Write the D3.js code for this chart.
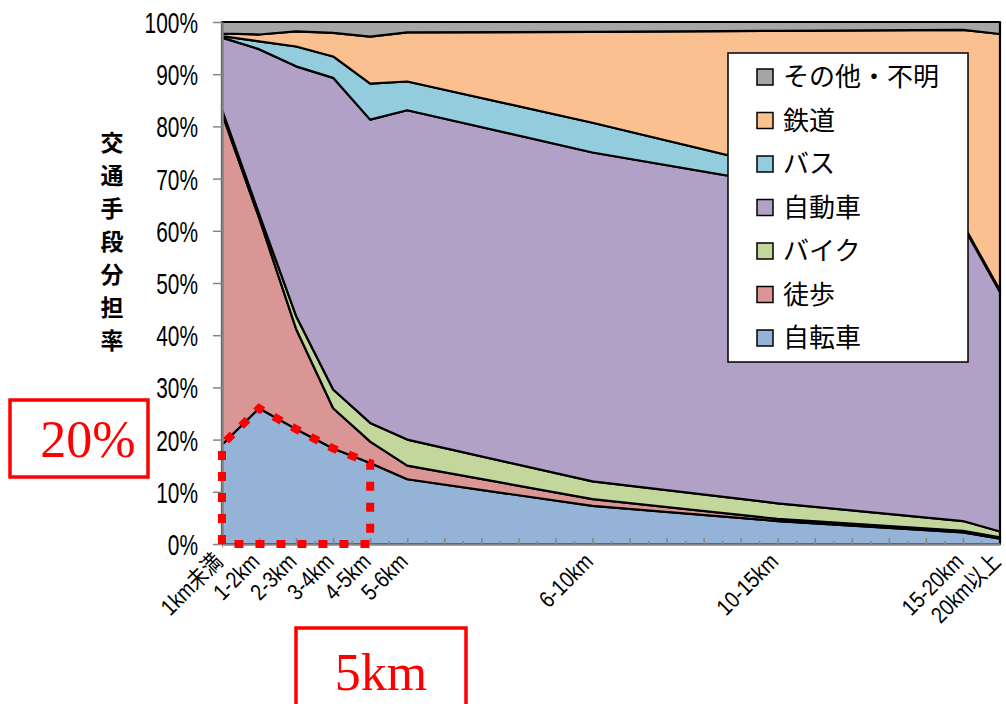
<!DOCTYPE html>
<html>
<head>
<meta charset="utf-8">
<script src="https://cdn.jsdelivr.net/npm/d3@7"></script>
<style>
  body { margin: 0; background: #fff; }
</style>
</head>
<body>
<svg id="chart" width="1006" height="704"></svg>
<script>
// Data (share in %)
const categories = ['1km未満', '1-2km', '2-3km', '3-4km', '4-5km', '5-6km', '6-10km', '10-15km', '15-20km', '20km以上'];
const axisKm = [0, 1, 2, 3, 4, 5, 10, 15, 20, 21];
const bicycle   = [19.0, 26.0, 22.0, 18.3, 15.5, 12.4, 7.3, 4.4, 2.2, 1.0];
const walk      = [63.5, 36.5, 19.2, 7.7, 4.1, 2.6, 1.3, 0.4, 0.3, 0.3];
const motorbike = [0.7, 0.8, 2.5, 3.6, 3.6, 5.0, 3.4, 3.0, 1.9, 1.1];
const car       = [13.8, 31.5, 47.8, 59.7, 58.1, 63.1, 63.0, 61.1, 56.6, 45.9];
const bus       = [0.3, 1.5, 3.8, 4.1, 6.9, 5.5, 5.7, 3.3, 0.3, 0.3];
const rail      = [0.5, 1.3, 2.9, 4.5, 9.0, 9.4, 17.4, 26.1, 37.2, 49.1];
const other     = [2.2, 2.4, 1.8, 2.1, 2.8, 2.0, 1.9, 1.7, 1.5, 2.3];
const seriesNames = ['自転車', '徒歩', 'バイク', '自動車', 'バス', '鉄道', 'その他・不明'];
const yTicks = [0, 10, 20, 30, 40, 50, 60, 70, 80, 90, 100];
const yTitle = '交通手段分担率';

const seriesValues = [bicycle, walk, motorbike, car, bus, rail, other];
const colors = ['#95b3d7', '#d99694', '#c3d69b', '#b2a1c7', '#93cddd', '#fac090', '#a6a6a6'];

// Table for d3.stack
const table = categories.map((c, i) => {
  const row = { cat: c, km: axisKm[i] };
  seriesNames.forEach((s, j) => { row[s] = seriesValues[j][i]; });
  return row;
});

const plotLeft = 222, plotRight = 1000, plotTop = 22, plotBottom = 544;

const svg = d3.select('#chart');

// Scales
const x = d3.scaleLinear().domain([0, 21]).range([plotLeft, plotRight]);
const y = d3.scaleLinear().domain([0, 100]).range([plotBottom, plotTop]);

// Stacked areas
const stack = d3.stack().keys(seriesNames);
const layers = stack(table);

const area = d3.area()
  .x(d => x(d.data.km))
  .y0(d => y(d[0]))
  .y1(d => y(d[1]));

svg.append('g')
  .selectAll('path')
  .data(layers)
  .enter().append('path')
  .attr('d', area)
  .attr('fill', (d, i) => colors[i])
  .attr('stroke', '#000')
  .attr('stroke-width', 2.2)
  .attr('stroke-linejoin', 'round');

// X axis: ticks point into the plot, long at whole units, short at halves
svg.append('g')
  .attr('transform', `translate(0,${plotBottom})`)
  .call(d3.axisBottom(x).tickValues(d3.range(0.5, 21, 1)).tickSize(-3).tickFormat(''))
  .call(g => g.select('.domain').remove())
  .call(g => g.selectAll('line').attr('stroke', '#868686').attr('stroke-width', 1.5));

svg.append('g')
  .attr('transform', `translate(0,${plotBottom})`)
  .call(d3.axisBottom(x).tickValues(d3.range(1, 21, 1)).tickSize(-6).tickSizeOuter(0).tickFormat(''))
  .call(g => g.select('.domain').attr('stroke', '#868686').attr('stroke-width', 2.5))
  .call(g => g.selectAll('line').attr('stroke', '#868686').attr('stroke-width', 1.5));

// Category labels, rotated
svg.append('g')
  .selectAll('text')
  .data(table)
  .enter().append('text')
  .attr('transform', d => `translate(${x(d.km) + 2},${plotBottom + 19}) rotate(-45) scale(0.85,1)`)
  .attr('text-anchor', 'end')
  .attr('font-family', '"Liberation Sans", "Noto Sans CJK JP", sans-serif')
  .attr('font-size', 23)
  .attr('fill', '#000')
  .text(d => d.cat);

// Y axis
const yAxis = svg.append('g')
  .attr('transform', `translate(${plotLeft},0)`)
  .call(d3.axisLeft(y).tickValues(yTicks).tickSize(9).tickSizeOuter(0).tickFormat(d => d + '%'));
yAxis.select('.domain').attr('stroke', '#868686').attr('stroke-width', 2.5);
yAxis.selectAll('line').attr('stroke', '#868686').attr('stroke-width', 1.5);
yAxis.selectAll('text')
  .attr('x', null)
  .attr('dy', '0.36em')
  .attr('transform', 'translate(-24,0) scale(0.72,1)')
  .attr('text-anchor', 'end')
  .attr('font-family', '"Liberation Sans", sans-serif')
  .attr('font-size', 29)
  .attr('fill', '#000');

// Y title, stacked characters
svg.append('g')
  .selectAll('text')
  .data(Array.from(yTitle))
  .enter().append('text')
  .attr('x', 112)
  .attr('y', (d, i) => 141 + i * 33)
  .attr('text-anchor', 'middle')
  .attr('dominant-baseline', 'central')
  .attr('font-family', '"Noto Sans CJK JP", sans-serif')
  .attr('font-weight', 'bold')
  .attr('font-size', 23)
  .text(d => d);

// Legend
const legend = svg.append('g');
legend.append('rect')
  .attr('x', 728).attr('y', 53)
  .attr('width', 240).attr('height', 309)
  .attr('fill', '#fff')
  .attr('stroke', '#000')
  .attr('stroke-width', 1.5);

const legendItems = seriesNames.map((s, i) => ({ name: s, color: colors[i] })).reverse();
const item = legend.selectAll('g.item')
  .data(legendItems)
  .enter().append('g')
  .attr('class', 'item')
  .attr('transform', (d, i) => `translate(757,${77 + i * 43.5})`);
item.append('rect')
  .attr('x', 0).attr('y', -8)
  .attr('width', 16).attr('height', 16)
  .attr('fill', d => d.color)
  .attr('stroke', '#000')
  .attr('stroke-width', 1.5);
item.append('text')
  .attr('x', 26)
  .attr('dy', '0.36em')
  .attr('font-family', '"Noto Sans CJK JP", sans-serif')
  .attr('font-size', 26)
  .text(d => d.name);

// Red dotted outline of the bicycle share up to 5km
const dotted = [[axisKm[0], 0]]
  .concat(axisKm.slice(0, 5).map((k, i) => [k, bicycle[i]]))
  .concat([[axisKm[4], 0], [axisKm[0], 0]]);
svg.append('path')
  .attr('d', d3.line().x(d => x(d[0])).y(d => y(d[1]))(dotted))
  .attr('fill', 'none')
  .attr('stroke', '#ff0000')
  .attr('stroke-width', 8)
  .attr('stroke-dasharray', '9,12');

// Red annotation boxes
svg.append('rect')
  .attr('x', 10).attr('y', 400)
  .attr('width', 138).attr('height', 77)
  .attr('fill', '#fff')
  .attr('stroke', '#ff0000')
  .attr('stroke-width', 3.5);
svg.append('text')
  .attr('x', 88).attr('y', 457)
  .attr('text-anchor', 'middle')
  .attr('font-family', '"Liberation Serif", serif')
  .attr('font-size', 52)
  .attr('fill', '#ff0000')
  .text('20%');

svg.append('rect')
  .attr('x', 296).attr('y', 628)
  .attr('width', 170).attr('height', 82)
  .attr('fill', '#fff')
  .attr('stroke', '#ff0000')
  .attr('stroke-width', 3.5);
svg.append('text')
  .attr('x', 381).attr('y', 690)
  .attr('text-anchor', 'middle')
  .attr('font-family', '"Liberation Serif", serif')
  .attr('font-size', 52)
  .attr('fill', '#ff0000')
  .text('5km');
</script>
</body>
</html>
